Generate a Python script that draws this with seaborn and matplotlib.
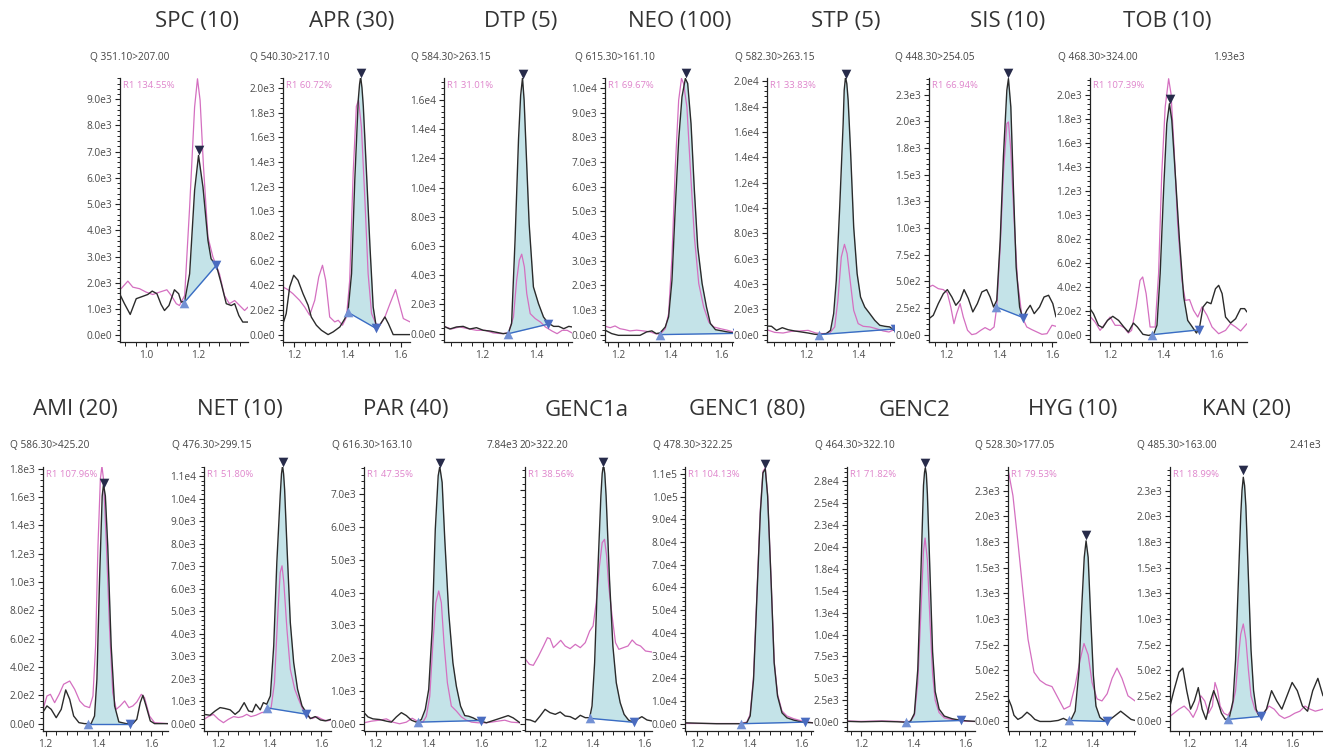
import numpy as np
import matplotlib
matplotlib.use("Agg")
import matplotlib.pyplot as plt
import seaborn as sns
from matplotlib.ticker import MultipleLocator, AutoMinorLocator, FuncFormatter, NullFormatter

W, H = 1323, 749

# ---- data: (retention time, intensity) ----
SPC_BLACK = [(0.900, 1560), (0.917, 1210), (0.939, 800), (0.962, 1400), (0.987, 1490), (1.006, 1560), (1.023, 1690),
             (1.041, 1590), (1.057, 1180), (1.070, 950), (1.087, 1140), (1.108, 1740), (1.124, 1590), (1.134, 1270),
             (1.147, 1300), (1.166, 2350), (1.185, 5530), (1.200, 6860), (1.217, 5650), (1.236, 3620), (1.248, 2920),
             (1.268, 2670), (1.287, 1970), (1.306, 1210), (1.325, 1140), (1.338, 1210), (1.354, 760), (1.369, 510), (1.389, 510)]
SPC_PINK = [(0.904, 1780), (0.930, 2070), (0.949, 1840), (0.975, 1780), (1.000, 1650), (1.025, 1560), (1.051, 1650),
            (1.079, 1740), (1.096, 1520), (1.115, 1210), (1.127, 1140), (1.147, 1520), (1.166, 4890), (1.185, 8700),
            (1.196, 9780), (1.206, 8960), (1.219, 6420), (1.236, 3750), (1.255, 2990), (1.280, 2350), (1.299, 1520),
            (1.318, 1210), (1.338, 1330), (1.357, 1140), (1.376, 950), (1.389, 1080)]

APR_BLACK = [(1.159, 89), (1.171, 170), (1.184, 386), (1.199, 481), (1.215, 441), (1.234, 332), (1.253, 238), (1.265, 143),
             (1.284, 76), (1.303, 35), (1.328, 0), (1.347, 22), (1.372, 62), (1.391, 130), (1.403, 197), (1.416, 495),
             (1.428, 1250), (1.441, 1900), (1.446, 2030), (1.450, 2090), (1.455, 2000), (1.460, 1850), (1.472, 1310),
             (1.485, 711), (1.497, 224), (1.510, 41), (1.525, 89), (1.541, 143), (1.554, 89), (1.572, 0), (1.635, 0)]
APR_PINK = [(1.159, 386), (1.177, 365), (1.196, 332), (1.221, 278), (1.240, 224), (1.259, 157), (1.278, 278), (1.293, 468),
            (1.307, 562), (1.319, 441), (1.334, 143), (1.353, 103), (1.366, 116), (1.382, 76), (1.397, 143), (1.409, 441),
            (1.422, 1310), (1.434, 1850), (1.442, 1900), (1.453, 1680), (1.466, 1090), (1.478, 495), (1.491, 170),
            (1.507, 89), (1.522, 76), (1.541, 143), (1.560, 251), (1.581, 365), (1.595, 251), (1.610, 130), (1.635, 103)]

DTP_BLACK = [(1.055, 500), (1.077, 320), (1.102, 460), (1.127, 500), (1.152, 320), (1.177, 410), (1.203, 230), (1.228, 180),
             (1.253, 90), (1.278, 0), (1.297, 50), (1.309, 690), (1.322, 6400), (1.335, 13300), (1.343, 16300),
             (1.350, 17500), (1.356, 16000), (1.362, 13300), (1.375, 7500), (1.391, 3200), (1.410, 2060), (1.429, 1140),
             (1.446, 730), (1.467, 500), (1.486, 500), (1.505, 340), (1.524, 500), (1.536, 460)]
DTP_PINK = [(1.055, 500), (1.083, 320), (1.114, 460), (1.146, 340), (1.177, 230), (1.209, 230), (1.240, 50), (1.272, 0),
            (1.297, 50), (1.316, 1140), (1.328, 3660), (1.338, 5030), (1.347, 5440), (1.357, 4570), (1.366, 2740),
            (1.379, 1370), (1.398, 1030), (1.417, 800), (1.436, 460), (1.461, 180), (1.480, 0), (1.499, 230),
            (1.518, 230), (1.536, 50)]

NEO_BLACK = [(1.148, 180), (1.174, 40), (1.200, -30), (1.284, -30), (1.310, 110), (1.330, 150), (1.347, 40), (1.362, 70),
             (1.382, 310), (1.395, 720), (1.408, 2200), (1.421, 5180), (1.434, 7880), (1.447, 9640), (1.460, 10380),
             (1.469, 10180), (1.482, 8550), (1.495, 5850), (1.508, 3550), (1.525, 2070), (1.542, 1120), (1.557, 450),
             (1.577, 200), (1.603, 150), (1.622, 110), (1.645, 70)]
NEO_PINK = [(1.148, 340), (1.168, 280), (1.187, 350), (1.206, 240), (1.226, 200), (1.245, 150), (1.271, 180), (1.297, 150),
            (1.323, 110), (1.343, 40), (1.362, 10), (1.382, 240), (1.395, 850), (1.408, 3150), (1.421, 6800),
            (1.434, 9500), (1.445, 10380), (1.453, 10180), (1.466, 9230), (1.479, 6800), (1.495, 3960), (1.512, 2070),
            (1.531, 1120), (1.551, 510), (1.570, 310), (1.596, 240), (1.622, 180), (1.645, 110)]

STP_BLACK = [(1.053, 680), (1.070, 660), (1.089, 340), (1.111, 550), (1.133, 390), (1.158, 290), (1.184, 210), (1.209, 130),
             (1.234, 30), (1.253, 0), (1.278, 80), (1.294, 340), (1.306, 1660), (1.316, 4290), (1.329, 10080),
             (1.342, 16660), (1.346, 19300), (1.351, 20340), (1.356, 19800), (1.361, 18500), (1.370, 14550),
             (1.382, 8500), (1.395, 4820), (1.408, 2970), (1.424, 2180), (1.443, 1660), (1.462, 1130), (1.481, 740),
             (1.500, 660), (1.519, 610), (1.535, 340)]
STP_PINK = [(1.053, 390), (1.082, 180), (1.114, 130), (1.146, 260), (1.177, 290), (1.209, 340), (1.238, 130), (1.266, 80),
            (1.291, 130), (1.310, 610), (1.322, 2710), (1.335, 6130), (1.347, 7130), (1.357, 6390), (1.370, 4030),
            (1.382, 1920), (1.399, 870), (1.418, 660), (1.443, 610), (1.468, 470), (1.494, 290), (1.516, 210), (1.535, 390)]

SIS_BLACK = [(1.136, 150), (1.152, 181), (1.171, 291), (1.190, 384), (1.205, 422), (1.222, 353), (1.237, 275), (1.253, 322),
             (1.268, 422), (1.284, 338), (1.301, 213), (1.318, 291), (1.335, 400), (1.353, 422), (1.366, 353), (1.379, 259),
             (1.391, 322), (1.404, 884), (1.416, 1666), (1.429, 2291), (1.435, 2400), (1.444, 2134), (1.454, 1353),
             (1.464, 634), (1.477, 259), (1.489, 150), (1.504, 228), (1.517, 275), (1.532, 197), (1.552, 259),
             (1.569, 353), (1.586, 369), (1.602, 291), (1.614, 166)]
SIS_PINK = [(1.136, 447), (1.150, 463), (1.171, 431), (1.190, 422), (1.205, 391), (1.218, 259), (1.230, 103), (1.240, 197),
            (1.253, 291), (1.265, 166), (1.281, 41), (1.297, 0), (1.313, 9), (1.331, 41), (1.347, 66), (1.366, 41),
            (1.381, 72), (1.391, 259), (1.404, 822), (1.416, 1509), (1.429, 1978), (1.435, 1994), (1.444, 1728),
            (1.457, 1041), (1.469, 509), (1.486, 166), (1.504, 72), (1.523, 47), (1.542, 25), (1.561, 3), (1.580, 9),
            (1.599, 88), (1.614, 78)]

TOB_BLACK = [(1.124, 217), (1.137, 175), (1.156, 78), (1.172, 58), (1.190, 119), (1.210, 153), (1.232, 119), (1.250, 69),
             (1.269, 22), (1.288, 97), (1.303, 64), (1.324, 3), (1.345, -6), (1.364, 3), (1.377, 78), (1.389, 508),
             (1.402, 1203), (1.414, 1758), (1.424, 1925), (1.433, 1786), (1.446, 1342), (1.462, 786), (1.478, 314),
             (1.493, 119), (1.509, 69), (1.526, 14), (1.538, 64), (1.551, 231), (1.566, 272), (1.581, 258), (1.598, 383),
             (1.610, 411), (1.623, 342), (1.636, 147), (1.655, 97), (1.674, 133), (1.693, 217), (1.708, 217), (1.717, 189)]
TOB_PINK = [(1.124, 153), (1.143, 106), (1.162, 36), (1.181, 92), (1.200, 147), (1.219, 78), (1.238, 78), (1.253, 58),
            (1.269, 14), (1.281, 36), (1.298, 231), (1.313, 453), (1.323, 481), (1.336, 342), (1.351, 64), (1.370, 64),
            (1.383, 508), (1.395, 1342), (1.408, 1897), (1.421, 2133), (1.430, 2008), (1.442, 1536), (1.455, 925),
            (1.471, 453), (1.484, 286), (1.500, 292), (1.515, 203), (1.531, 147), (1.547, 231), (1.566, 161),
            (1.585, 64), (1.610, 8), (1.636, 36), (1.655, 92), (1.674, 64), (1.693, 31), (1.717, 92)]

AMI_BLACK = [(1.190, 82), (1.205, 125), (1.221, 101), (1.240, 42), (1.259, 101), (1.276, 238), (1.291, 172), (1.306, 54),
             (1.326, 7), (1.347, 0), (1.372, 0), (1.385, 54), (1.394, 313), (1.404, 1019), (1.414, 1607), (1.419, 1689),
             (1.426, 1607), (1.435, 1254), (1.448, 548), (1.461, 125), (1.477, 12), (1.505, 0), (1.530, 0), (1.545, 31),
             (1.558, 148), (1.568, 200), (1.580, 125), (1.596, 19), (1.612, 0), (1.663, 0)]
AMI_PINK = [(1.190, 101), (1.205, 195), (1.218, 207), (1.234, 148), (1.251, 207), (1.268, 278), (1.291, 301), (1.310, 242),
            (1.329, 160), (1.347, 125), (1.366, 113), (1.379, 195), (1.389, 548), (1.398, 1254), (1.407, 1725),
            (1.413, 1819), (1.419, 1725), (1.429, 1301), (1.442, 666), (1.454, 219), (1.467, 101), (1.482, 125),
            (1.499, 160), (1.515, 113), (1.530, 125), (1.545, 153), (1.562, 207), (1.574, 184), (1.593, 54),
            (1.612, 7), (1.663, 0)]

NET_BLACK = [(1.147, 410), (1.170, 370), (1.190, 560), (1.209, 710), (1.228, 670), (1.248, 610), (1.267, 410), (1.283, 560),
             (1.302, 930), (1.319, 560), (1.334, 520), (1.347, 860), (1.364, 610), (1.376, 930), (1.389, 860),
             (1.403, 1230), (1.416, 3450), (1.428, 7160), (1.441, 10120), (1.446, 11100), (1.450, 11450), (1.454, 11100),
             (1.458, 10410), (1.467, 7900), (1.480, 4490), (1.493, 2710), (1.508, 1530), (1.525, 790), (1.540, 520),
             (1.557, 220), (1.576, 310), (1.596, 160), (1.615, 120), (1.637, 190)]
NET_PINK = [(1.147, 190), (1.164, 310), (1.183, 410), (1.203, 190), (1.222, 40), (1.241, 190), (1.261, 310), (1.280, 270),
            (1.296, 310), (1.312, 410), (1.328, 310), (1.347, 370), (1.370, 490), (1.389, 520), (1.406, 710),
            (1.419, 1820), (1.432, 4930), (1.441, 6710), (1.448, 7010), (1.455, 6270), (1.467, 4190), (1.480, 2410),
            (1.497, 1530), (1.512, 1080), (1.528, 640), (1.545, 340), (1.564, 220), (1.583, 310), (1.603, 190),
            (1.622, 120), (1.637, 160)]

PAR_BLACK = [(1.156, 340), (1.171, 210), (1.190, 150), (1.215, 130), (1.241, 80), (1.260, 50), (1.279, 210), (1.298, 340),
             (1.317, 250), (1.336, 110), (1.355, 50), (1.374, 130), (1.389, 440), (1.402, 1050), (1.415, 2880),
             (1.427, 5930), (1.438, 7560), (1.444, 7840), (1.453, 7360), (1.463, 5630), (1.478, 3390), (1.494, 1860),
             (1.507, 1150), (1.523, 540), (1.539, 250), (1.554, 230), (1.571, 180), (1.587, 110), (1.602, 80),
             (1.621, 30), (1.640, 80), (1.659, 130), (1.678, 180), (1.704, 250), (1.723, 180), (1.749, 30)]
PAR_PINK = [(1.156, 30), (1.184, 80), (1.215, 110), (1.241, 150), (1.266, 50), (1.291, 0), (1.317, 50), (1.339, 170),
            (1.359, 80), (1.380, 50), (1.393, 230), (1.406, 840), (1.418, 2470), (1.429, 3690), (1.440, 4050),
            (1.450, 3690), (1.460, 2470), (1.473, 1250), (1.488, 540), (1.507, 390), (1.526, 210), (1.545, 110),
            (1.565, 50), (1.590, 30), (1.615, 30), (1.640, 50), (1.665, 80), (1.691, 110), (1.716, 50), (1.749, 30)]

GENC1A_BLACK = [(1.142, 1.3), (1.162, 1.1), (1.181, 0.5), (1.200, 2.3), (1.219, 4.3), (1.238, 3.3), (1.258, 2.8),
                (1.277, 3.5), (1.296, 2.3), (1.315, 2.1), (1.335, 1.3), (1.354, 2.5), (1.373, 1.8), (1.390, 1.8),
                (1.399, 5.3), (1.409, 18.3), (1.420, 43.3), (1.433, 68.3), (1.438, 75.0), (1.443, 77.8), (1.448, 75.0),
                (1.453, 68.3), (1.466, 43.3), (1.479, 23.3), (1.492, 12.3), (1.507, 6.3), (1.522, 2.8), (1.539, 1.1),
                (1.558, 0.3), (1.573, 1.3), (1.590, 2.1), (1.610, 1.1), (1.629, 0.8)]
GENC1A_PINK = [(1.142, 19.5), (1.159, 17.8), (1.174, 17.5), (1.194, 20.3), (1.213, 23.3), (1.228, 25.8), (1.238, 25.5),
               (1.251, 22.8), (1.264, 23.8), (1.279, 25.0), (1.296, 23.3), (1.315, 22.5), (1.335, 23.8), (1.354, 22.8),
               (1.373, 24.3), (1.390, 27.8), (1.403, 29.3), (1.415, 36.3), (1.426, 46.3), (1.438, 54.3), (1.447, 55.3),
               (1.455, 50.3), (1.463, 41.3), (1.476, 32.3), (1.489, 24.3), (1.502, 22.3), (1.519, 22.8), (1.537, 23.3),
               (1.553, 25.1), (1.569, 23.8), (1.585, 23.3), (1.604, 21.8), (1.629, 21.5)]

GENC1_BLACK = [(1.155, 400), (1.277, 0), (1.367, 0), (1.392, 400), (1.405, 3400), (1.418, 19500), (1.431, 56200),
               (1.444, 92800), (1.454, 110400), (1.463, 112200), (1.472, 100100), (1.485, 63500), (1.497, 26800),
               (1.510, 12200), (1.527, 4800), (1.546, 2600), (1.572, 1600), (1.604, 700), (1.646, 400)]
GENC1_PINK = [(1.155, 100), (1.277, 100), (1.367, 100), (1.392, 700), (1.405, 4100), (1.418, 21000), (1.431, 57600),
              (1.444, 94300), (1.454, 111100), (1.463, 112600), (1.472, 100900), (1.485, 64200), (1.497, 27600),
              (1.510, 12900), (1.527, 5600), (1.546, 3400), (1.572, 2200), (1.604, 1200), (1.646, 400)]

GENC2_BLACK = [(1.146, 100), (1.200, 50), (1.280, 100), (1.340, 50), (1.372, 0), (1.390, 100), (1.405, 1000),
               (1.418, 6000), (1.430, 17000), (1.440, 27000), (1.444, 28500), (1.447, 29000), (1.451, 28300),
               (1.455, 26000), (1.465, 17000), (1.475, 8000), (1.485, 3500), (1.500, 1500), (1.520, 700), (1.550, 400),
               (1.586, 200), (1.610, 150), (1.638, 100)]
GENC2_PINK = [(1.146, 150), (1.200, 100), (1.280, 150), (1.340, 100), (1.372, 50), (1.390, 120), (1.405, 800),
              (1.418, 4500), (1.430, 12500), (1.440, 19500), (1.446, 21000), (1.455, 18500), (1.465, 11500),
              (1.475, 5500), (1.485, 2500), (1.500, 1100), (1.520, 500), (1.550, 300), (1.586, 150), (1.610, 100),
              (1.638, 80)]

HYG_BLACK = [(1.077, 230), (1.090, 150), (1.100, 60), (1.115, 20), (1.130, 40), (1.150, 90), (1.165, 60), (1.180, 20),
             (1.200, 0), (1.240, 0), (1.270, 10), (1.290, 30), (1.305, 10), (1.320, 20), (1.335, 100), (1.350, 500),
             (1.360, 1100), (1.370, 1600), (1.377, 1760), (1.385, 1600), (1.395, 1000), (1.405, 450), (1.415, 150),
             (1.430, 40), (1.445, 10), (1.458, 0), (1.470, 20), (1.490, 60), (1.510, 100), (1.530, 60), (1.550, 20),
             (1.565, 10)]
HYG_PINK = [(1.077, 2460), (1.096, 2200), (1.115, 1750), (1.135, 1250), (1.154, 800), (1.177, 480), (1.200, 400),
            (1.223, 360), (1.246, 340), (1.269, 230), (1.292, 120), (1.315, 150), (1.335, 350), (1.354, 600),
            (1.369, 760), (1.385, 650), (1.400, 380), (1.419, 220), (1.438, 200), (1.458, 270), (1.477, 420),
            (1.496, 520), (1.515, 420), (1.538, 250), (1.565, 200)]

KAN_BLACK = [(1.125, 150), (1.140, 300), (1.160, 480), (1.175, 520), (1.190, 300), (1.205, 120), (1.220, 200),
             (1.235, 330), (1.250, 120), (1.265, 20), (1.280, 180), (1.295, 300), (1.310, 200), (1.325, 80),
             (1.340, 20), (1.355, 30), (1.370, 200), (1.380, 600), (1.390, 1300), (1.400, 2000), (1.405, 2250),
             (1.410, 2380), (1.415, 2300), (1.420, 2100), (1.430, 1400), (1.440, 700), (1.450, 300), (1.460, 120),
             (1.470, 60), (1.480, 50), (1.500, 120), (1.520, 300), (1.540, 200), (1.560, 120), (1.580, 250),
             (1.600, 380), (1.620, 300), (1.640, 150), (1.660, 100), (1.680, 300), (1.700, 420), (1.720, 250)]
KAN_PINK = [(1.125, 50), (1.140, 80), (1.160, 120), (1.180, 150), (1.200, 100), (1.215, 40), (1.230, 120), (1.245, 250),
            (1.260, 200), (1.275, 80), (1.290, 150), (1.300, 380), (1.310, 300), (1.320, 150), (1.335, 80), (1.350, 60),
            (1.365, 120), (1.380, 300), (1.390, 600), (1.400, 850), (1.410, 950), (1.420, 800), (1.430, 500),
            (1.440, 250), (1.455, 120), (1.470, 60), (1.490, 80), (1.510, 150), (1.530, 120), (1.550, 60), (1.570, 30),
            (1.590, 50), (1.610, 80), (1.630, 100), (1.650, 150), (1.670, 120), (1.690, 100), (1.720, 120)]

# peak integration points: start, end, apex
PEAK_START = [(1.145, 1250), (1.403, 180), (1.297, 0), (1.362, 0), (1.250, 0), (1.388, 260), (1.360, 0),
              (1.360, 0), (1.389, 700), (1.360, 50), (1.390, 1.6), (1.370, 0), (1.372, 0), (1.310, 10), (1.350, 20)]
PEAK_END = [(1.268, 2670), (1.508, 50), (1.446, 650), (1.660, 50), (1.540, 450), (1.490, 160), (1.535, 40),
            (1.520, 0), (1.540, 420), (1.600, 100), (1.560, 0.4), (1.615, 700), (1.586, 200), (1.458, 0), (1.480, 50)]
PEAK_APEX = [(1.200, 7050), (1.450, 2120), (1.350, 17800), (1.462, 10620), (1.351, 20600), (1.435, 2456), (1.428, 1967),
             (1.420, 1700), (1.450, 11600), (1.444, 7950), (1.443, 78.6), (1.462, 114400), (1.447, 29500),
             (1.377, 1820), (1.410, 2450)]

TITLES = ["SPC (10)", "APR (30)", "DTP (5)", "NEO (100)", "STP (5)", "SIS (10)", "TOB (10)",
          "AMI (20)", "NET (10)", "PAR (40)", "GENC1a", "GENC1 (80)", "GENC2", "HYG (10)", "KAN (20)"]
TRANSITIONS = ["Q 351.10>207.00", "Q 540.30>217.10", "Q 584.30>263.15", "Q 615.30>161.10", "Q 582.30>263.15",
               "Q 448.30>254.05", "Q 468.30>324.00", "Q 586.30>425.20", "Q 476.30>299.15", "Q 616.30>163.10",
               "20>322.20", "Q 478.30>322.25", "Q 464.30>322.10", "Q 528.30>177.05", "Q 485.30>163.00"]
RATIOS = ["R1 134.55%", "R1 60.72%", "R1 31.01%", "R1 69.67%", "R1 33.83%", "R1 66.94%", "R1 107.39%",
          "R1 107.96%", "R1 51.80%", "R1 47.35%", "R1 38.56%", "R1 104.13%", "R1 71.82%", "R1 79.53%", "R1 18.99%"]
MAX_LABELS = ["", "", "", "", "", "", "1.93e3", "", "", "7.84e3", "", "", "", "", "2.41e3"]

BLACKS = [SPC_BLACK, APR_BLACK, DTP_BLACK, NEO_BLACK, STP_BLACK, SIS_BLACK, TOB_BLACK,
          AMI_BLACK, NET_BLACK, PAR_BLACK, GENC1A_BLACK, GENC1_BLACK, GENC2_BLACK, HYG_BLACK, KAN_BLACK]
PINKS = [SPC_PINK, APR_PINK, DTP_PINK, NEO_PINK, STP_PINK, SIS_PINK, TOB_PINK,
         AMI_PINK, NET_PINK, PAR_PINK, GENC1A_PINK, GENC1_PINK, GENC2_PINK, HYG_PINK, KAN_PINK]

# ---- layout (pixels): axes box left, right, top, bottom; view limits; y step ----
BOXES = [(120, 248, 78, 342), (283, 410, 78, 342), (444, 572, 78, 342), (605, 733, 78, 342),
         (767, 894, 78, 342), (929, 1056, 78, 342), (1090, 1247, 78, 342),
         (43, 168, 467, 731), (204, 331, 467, 731), (364, 520, 467, 731), (525, 652, 467, 731),
         (685, 813, 467, 731), (847, 975, 467, 731), (1008, 1135, 467, 731), (1170, 1323, 467, 731)]
XLIMS = [(0.900, 1.389), (1.159, 1.635), (1.055, 1.536), (1.148, 1.645), (1.053, 1.535), (1.136, 1.614), (1.124, 1.717),
         (1.190, 1.663), (1.147, 1.637), (1.156, 1.749), (1.142, 1.629), (1.155, 1.646), (1.146, 1.638),
         (1.077, 1.565), (1.125, 1.720)]
YLIMS = [(-250, 9810), (-60, 2080), (-570, 17500), (-300, 10400), (-580, 20260), (-69, 2406), (-61, 2139),
         (-52, 1812), (-330, 11400), (-220, 7830), (-2.2, 77), (-3200, 113000), (-1000, 29100),
         (-93, 2480), (-93, 2480)]
YSTEPS = [1000, 200, 2000, 1000, 2000, 250, 200, 200, 1000, 1000, 10, 10000, 2500, 250, 250]
TITLE_X = [197, 352, 521, 680, 846, 1008, 1167, 75, 240, 406, 587, 747, 914, 1073, 1246]
Q_X = [90, 250, 411, 575, 735, 895, 1058, 10, 172, 332, 520, 653, 815, 975, 1137]

BLACK = "#2b2b2b"
PINK = "#d46fc0"
FILL = "#c4e3e8"
BASE = "#3a6cc4"

sns.set_style("ticks")
plt.rcParams["font.family"] = ["Open Sans", "DejaVu Sans"]


def sci_label(v, pos):
    if abs(v) < 1e-9:
        return "0.0e0"
    e = int(np.floor(np.log10(abs(v))))
    m = np.floor(v / 10 ** e * 10 + 0.5) / 10
    if m >= 10:
        m /= 10
        e += 1
    return f"{m:.1f}e{e}"


fig = plt.figure(figsize=(W / 100, H / 100), dpi=100)

for i in range(15):
    l, r, t, b = BOXES[i]
    ax = fig.add_axes([l / W, 1 - b / H, (r - l) / W, (b - t) / H])
    bx, by = np.array(BLACKS[i], dtype=float).T
    px, py = np.array(PINKS[i], dtype=float).T
    (sx, sy), (ex, ey), (apx, apy) = PEAK_START[i], PEAK_END[i], PEAK_APEX[i]

    # integrated area between the baseline and the trace
    inside = (bx > sx) & (bx < ex)
    fx = np.concatenate([[sx], bx[inside], [min(ex, bx[-1])]])
    fy = np.concatenate([[np.interp(sx, bx, by)], by[inside], [np.interp(ex, bx, by)]])
    base = np.interp(fx, [sx, ex], [sy, ey])
    ax.fill_between(fx, base, fy, color=FILL, lw=0, zorder=1)

    sns.lineplot(x=px, y=py, ax=ax, color=PINK, lw=0.9, sort=False, estimator=None, zorder=2)
    sns.lineplot(x=bx, y=by, ax=ax, color=BLACK, lw=1.0, sort=False, estimator=None, zorder=3)
    ax.plot([sx, ex], [sy, ey], color=BASE, lw=1.0, zorder=4)

    sns.scatterplot(x=[sx], y=[sy], ax=ax, marker="^", s=48, color="#7391d4", linewidth=0, zorder=6, clip_on=False)
    sns.scatterplot(x=[ex], y=[ey], ax=ax, marker="v", s=48, color="#4a6cc0", linewidth=0, zorder=6)
    sns.scatterplot(x=[apx], y=[apy], ax=ax, marker="v", s=48, color="#272b4a", linewidth=0, zorder=6, clip_on=False)

    ax.set_xlim(*XLIMS[i])
    ax.set_ylim(*YLIMS[i])
    sns.despine(ax=ax)
    for s in ("left", "bottom"):
        ax.spines[s].set_color("#222222")
        ax.spines[s].set_linewidth(0.9)

    ax.xaxis.set_major_locator(MultipleLocator(0.2))
    ax.xaxis.set_minor_locator(AutoMinorLocator(5))
    ax.xaxis.set_major_formatter(FuncFormatter(lambda v, p: f"{v:.1f}"))
    ax.yaxis.set_major_locator(MultipleLocator(YSTEPS[i]))
    ax.yaxis.set_minor_locator(AutoMinorLocator(5))
    if i == 10:
        ax.yaxis.set_major_formatter(NullFormatter())
    else:
        ax.yaxis.set_major_formatter(FuncFormatter(sci_label))
    ax.tick_params(axis="both", which="major", length=3.5, width=0.8, color="#222222",
                   labelsize=7.3, labelcolor="#4a4a4a", pad=2)
    ax.tick_params(axis="y", which="minor", length=2, width=0.7, color="#222222")
    ax.tick_params(axis="x", which="minor", length=3, width=0.7, color="#222222")
    ax.set_xlabel("")
    ax.set_ylabel("")
    ax.patch.set_alpha(0)

    ty = 22 if t < 200 else 410
    qy = 57 if t < 200 else 446
    fig.text(TITLE_X[i] / W, 1 - ty / H, TITLES[i], ha="center", va="center", fontsize=16, color="#333333")
    fig.text(Q_X[i] / W, 1 - qy / H, TRANSITIONS[i], ha="left", va="center", fontsize=7.3, color="#444444")
    fig.text((l + 3) / W, 1 - (t + 7) / H, RATIOS[i], ha="left", va="center", fontsize=6.8, color="#df86cc")
    if MAX_LABELS[i]:
        fig.text((r - 2) / W, 1 - qy / H, MAX_LABELS[i], ha="right", va="center", fontsize=7.3, color="#444444")

fig.savefig("out.png", dpi=100)
